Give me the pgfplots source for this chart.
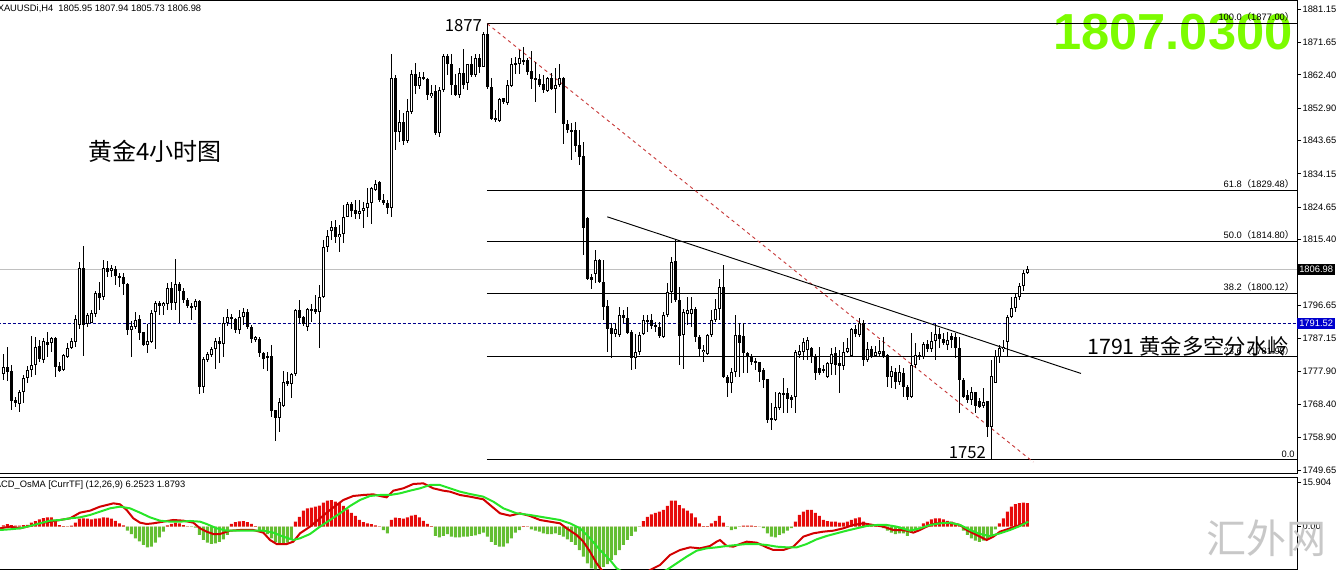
\documentclass[border=0pt]{standalone}
\usepackage{pgfplots}
\pgfplotsset{compat=1.18}
\usepackage{pgfplotstable}
\usepackage{fontspec}
\setmainfont{Liberation Sans}
\newfontfamily\cjk{Noto Sans CJK SC}
\definecolor{lawn}{RGB}{124,252,0}
\definecolor{hred}{RGB}{230,10,10}
\definecolor{hgreen}{RGB}{100,190,50}
\definecolor{mred}{RGB}{210,0,0}
\definecolor{mgreen}{RGB}{40,230,40}
\definecolor{navyd}{RGB}{0,0,140}
\definecolor{fibred}{RGB}{200,60,60}
\definecolor{pgray}{RGB}{192,192,192}
\definecolor{wm}{RGB}{200,200,200}
\definecolor{boxblue}{RGB}{0,0,205}
\newcommand\tf{\fontsize{7}{8}\selectfont}
\newcommand\fib[2]{#1{\cjk（}#2{\cjk）}}
\pgfplotstableread{
i o h l c
0 1777.0 1782.7 1775.3 1779.1
1 1779.1 1784.8 1775.1 1777.7
2 1777.9 1779.6 1766.7 1769.4
3 1769.6 1770.5 1767.7 1768.8
4 1768.5 1772.6 1766.3 1771.8
5 1771.8 1776.7 1768.8 1775.8
6 1775.9 1779.3 1774.4 1778.3
7 1778.3 1788.0 1776.3 1779.6
8 1779.6 1787.5 1776.7 1784.8
9 1785.0 1786.7 1780.5 1781.4
10 1781.0 1787.2 1780.2 1786.5
11 1786.2 1788.9 1782.0 1785.4
12 1785.8 1787.5 1783.4 1787.2
13 1787.2 1787.5 1776.3 1779.1
14 1779.3 1780.5 1777.7 1778.0
15 1778.2 1782.9 1778.0 1782.4
16 1782.0 1785.8 1781.5 1784.6
17 1784.6 1787.4 1784.3 1786.4
18 1786.2 1793.8 1784.8 1792.6
19 1791.0 1809.1 1790.0 1807.4
20 1807.4 1813.5 1782.2 1791.0
21 1791.2 1794.5 1790.5 1793.8
22 1791.7 1795.3 1791.5 1794.5
23 1794.3 1800.8 1793.2 1800.2
24 1800.2 1803.4 1795.3 1798.8
25 1799.1 1809.5 1798.1 1807.4
26 1807.4 1809.3 1804.8 1806.2
27 1806.5 1808.1 1804.8 1807.3
28 1806.9 1807.8 1802.4 1805.0
29 1805.1 1805.9 1801.9 1804.6
30 1804.6 1805.9 1799.6 1802.6
31 1802.7 1802.9 1788.1 1789.6
32 1789.6 1792.2 1781.8 1790.7
33 1790.5 1794.8 1790.0 1792.4
34 1792.6 1793.8 1786.7 1788.8
35 1789.1 1789.1 1785.0 1785.3
36 1785.3 1791.3 1782.9 1786.4
37 1786.3 1795.3 1785.8 1794.6
38 1794.6 1797.9 1784.3 1797.2
39 1797.2 1797.9 1793.8 1796.4
40 1796.4 1797.7 1793.8 1797.2
41 1797.0 1802.9 1795.3 1801.7
42 1801.7 1803.4 1795.3 1797.2
43 1797.2 1810.0 1795.3 1802.6
44 1802.6 1803.4 1791.7 1800.8
45 1800.8 1801.5 1797.2 1798.1
46 1798.3 1798.6 1795.8 1796.4
47 1796.4 1797.2 1792.6 1796.0
48 1796.2 1798.6 1795.3 1797.8
49 1797.8 1798.1 1771.3 1773.4
50 1773.4 1782.0 1771.5 1781.2
51 1781.0 1783.4 1780.5 1782.7
52 1782.6 1784.8 1782.0 1784.1
53 1784.1 1787.2 1778.6 1786.4
54 1786.4 1787.7 1780.2 1785.5
55 1785.5 1793.4 1782.0 1791.7
56 1791.7 1795.5 1790.7 1793.2
57 1793.2 1794.3 1790.0 1792.6
58 1792.7 1792.9 1788.8 1789.6
59 1789.6 1795.3 1788.4 1793.2
60 1793.2 1795.8 1791.0 1794.7
61 1794.8 1795.5 1790.0 1790.5
62 1790.5 1791.0 1785.8 1786.9
63 1786.9 1787.9 1786.2 1787.5
64 1786.9 1787.7 1782.0 1782.9
65 1783.1 1783.4 1778.4 1781.4
66 1782.2 1783.4 1778.0 1781.5
67 1782.2 1785.3 1764.8 1766.6
68 1766.7 1766.7 1758.0 1764.4
69 1764.4 1770.1 1760.6 1769.1
70 1768.0 1778.0 1767.7 1774.8
71 1775.0 1777.7 1773.6 1774.2
72 1774.2 1777.4 1770.1 1777.0
73 1777.0 1795.5 1776.4 1795.3
74 1795.3 1798.3 1791.5 1792.9
75 1793.2 1793.6 1790.7 1791.3
76 1790.5 1795.8 1789.4 1795.5
77 1795.5 1797.0 1792.0 1795.1
78 1795.5 1799.6 1794.3 1794.8
79 1794.8 1802.4 1784.6 1798.9
80 1798.9 1815.2 1798.6 1813.2
81 1813.2 1818.1 1811.9 1816.4
82 1817.9 1820.7 1815.2 1819.0
83 1819.0 1821.0 1814.5 1816.2
84 1816.2 1819.5 1811.9 1816.9
85 1816.9 1825.2 1814.5 1821.9
86 1821.9 1826.2 1821.9 1825.7
87 1825.5 1826.2 1821.9 1823.6
88 1823.8 1826.8 1821.2 1822.7
89 1822.7 1826.6 1821.4 1823.6
90 1823.6 1826.2 1818.6 1824.5
91 1824.5 1830.0 1821.9 1825.9
92 1825.7 1830.4 1819.8 1830.0
93 1829.7 1832.4 1829.3 1831.4
94 1831.7 1832.1 1826.2 1826.6
95 1826.8 1828.4 1825.2 1825.9
96 1825.9 1826.6 1822.8 1824.3
97 1824.3 1868.5 1821.9 1861.4
98 1861.6 1862.3 1840.9 1846.1
99 1846.1 1852.3 1843.3 1849.0
100 1849.0 1851.6 1842.3 1843.6
101 1843.6 1855.4 1843.0 1852.1
102 1851.8 1863.9 1851.2 1862.6
103 1862.6 1865.8 1856.9 1859.3
104 1859.3 1863.3 1858.5 1861.8
105 1861.8 1863.3 1860.9 1861.4
106 1861.1 1861.4 1855.2 1856.6
107 1856.3 1859.5 1855.9 1857.3
108 1857.7 1859.5 1845.2 1845.7
109 1845.9 1859.0 1844.7 1858.0
110 1858.0 1868.5 1857.6 1867.7
111 1867.7 1868.5 1862.3 1865.4
112 1865.6 1868.5 1856.6 1859.5
113 1859.5 1862.8 1856.3 1856.6
114 1856.6 1864.5 1855.7 1862.8
115 1862.8 1869.9 1858.5 1859.5
116 1860.2 1865.6 1858.0 1865.4
117 1865.4 1867.7 1861.8 1862.3
118 1862.3 1868.5 1861.8 1867.1
119 1867.1 1868.5 1862.8 1864.7
120 1864.7 1874.7 1864.7 1874.0
121 1874.0 1877.0 1858.5 1859.0
122 1859.0 1861.4 1849.5 1849.7
123 1850.0 1852.3 1849.0 1849.5
124 1849.2 1855.7 1849.0 1855.4
125 1855.7 1855.9 1854.2 1854.7
126 1854.4 1860.9 1853.7 1859.5
127 1859.3 1867.1 1859.0 1865.6
128 1865.4 1867.5 1862.8 1865.8
129 1865.6 1869.4 1862.6 1867.1
130 1866.1 1870.4 1865.2 1866.6
131 1866.6 1867.1 1862.3 1863.3
132 1863.5 1869.2 1858.5 1861.1
133 1861.4 1866.1 1854.7 1861.1
134 1861.1 1862.8 1859.0 1859.5
135 1859.7 1862.3 1857.1 1858.0
136 1857.8 1861.8 1857.6 1861.4
137 1861.4 1862.8 1858.0 1858.5
138 1858.5 1864.5 1851.4 1859.5
139 1859.5 1865.6 1859.0 1861.4
140 1861.4 1861.8 1842.6 1848.3
141 1848.3 1849.5 1845.7 1846.6
142 1846.1 1848.7 1838.1 1846.6
143 1846.6 1849.0 1840.4 1842.1
144 1842.3 1846.6 1836.6 1839.0
145 1839.2 1843.3 1811.0 1818.8
146 1821.7 1821.9 1803.8 1804.3
147 1804.8 1805.7 1801.4 1804.0
148 1805.7 1812.4 1802.9 1809.5
149 1809.7 1810.0 1802.9 1803.3
150 1803.3 1809.5 1792.4 1796.2
151 1796.4 1798.1 1783.4 1790.0
152 1790.3 1791.5 1781.5 1788.6
153 1788.6 1791.5 1787.7 1790.0
154 1788.1 1796.2 1787.7 1793.8
155 1793.8 1795.3 1791.5 1792.9
156 1792.9 1796.2 1788.6 1788.8
157 1789.1 1789.6 1778.1 1781.5
158 1781.5 1788.6 1778.6 1783.4
159 1783.4 1789.1 1782.4 1788.1
160 1788.6 1793.8 1788.1 1792.4
161 1791.9 1793.8 1789.1 1792.4
162 1792.4 1794.3 1790.0 1790.7
163 1791.0 1791.9 1789.1 1790.5
164 1790.5 1791.9 1787.2 1787.8
165 1787.7 1794.8 1787.2 1793.8
166 1793.8 1802.9 1793.4 1800.5
167 1800.5 1810.5 1797.2 1809.1
168 1809.3 1815.7 1797.6 1798.1
169 1798.1 1801.9 1779.6 1787.8
170 1788.1 1795.7 1778.6 1794.8
171 1794.3 1799.1 1791.0 1795.3
172 1794.3 1799.1 1790.5 1795.7
173 1795.7 1796.2 1786.2 1787.7
174 1787.7 1788.1 1781.9 1784.3
175 1783.4 1785.3 1780.5 1784.0
176 1782.9 1788.6 1782.4 1788.1
177 1788.1 1795.3 1787.7 1792.6
178 1792.6 1798.6 1791.9 1795.7
179 1795.7 1804.3 1792.4 1801.9
180 1801.9 1808.1 1775.8 1776.2
181 1776.1 1776.8 1770.6 1774.6
182 1774.6 1778.7 1771.7 1777.7
183 1777.7 1793.9 1776.3 1788.2
184 1788.2 1791.5 1776.3 1785.8
185 1787.9 1791.7 1777.2 1783.0
186 1783.0 1783.4 1777.2 1782.2
187 1782.2 1782.8 1779.6 1780.6
188 1780.9 1781.5 1778.2 1780.1
189 1780.6 1780.6 1774.9 1777.7
190 1778.2 1778.7 1773.0 1775.3
191 1775.5 1775.5 1763.0 1763.9
192 1764.4 1768.7 1761.1 1763.9
193 1763.9 1772.0 1763.5 1767.7
194 1767.3 1772.0 1766.8 1771.5
195 1771.1 1775.8 1765.8 1771.5
196 1771.5 1773.0 1765.8 1769.8
197 1770.4 1771.1 1767.3 1769.6
198 1770.4 1783.9 1765.8 1783.4
199 1782.5 1785.3 1781.5 1783.7
200 1783.4 1787.2 1781.0 1786.3
201 1783.9 1787.7 1781.0 1786.7
202 1784.4 1784.9 1780.1 1782.0
203 1782.0 1782.8 1775.3 1777.2
204 1778.7 1784.9 1776.8 1777.2
205 1778.4 1779.6 1777.2 1778.0
206 1776.1 1780.6 1775.8 1780.1
207 1779.9 1784.4 1776.8 1782.9
208 1782.9 1784.9 1776.8 1779.6
209 1780.3 1783.9 1771.7 1779.2
210 1779.2 1786.3 1778.2 1783.4
211 1783.4 1787.2 1783.0 1784.4
212 1782.2 1790.1 1782.0 1789.8
213 1789.8 1791.0 1787.7 1788.5
214 1788.2 1792.9 1787.7 1791.5
215 1791.5 1792.5 1779.2 1781.0
216 1781.0 1786.3 1780.6 1784.1
217 1784.1 1785.0 1781.5 1782.0
218 1782.2 1785.0 1782.0 1783.4
219 1782.8 1786.8 1782.0 1783.7
220 1783.7 1787.5 1781.5 1782.2
221 1782.5 1782.8 1773.4 1776.3
222 1776.3 1779.2 1773.0 1778.0
223 1777.7 1778.7 1772.7 1774.9
224 1774.9 1779.6 1773.9 1777.7
225 1777.2 1778.7 1770.6 1773.3
226 1773.4 1773.9 1769.6 1770.6
227 1770.6 1788.7 1770.1 1779.6
228 1779.6 1785.8 1778.7 1782.5
229 1782.0 1783.4 1781.0 1782.5
230 1782.0 1786.3 1781.2 1785.6
231 1785.6 1786.8 1783.4 1784.1
232 1784.1 1789.1 1783.4 1786.6
233 1786.6 1791.3 1781.0 1788.5
234 1788.5 1790.1 1784.4 1787.0
235 1787.0 1788.7 1785.3 1786.0
236 1785.3 1789.1 1783.9 1786.7
237 1787.9 1788.7 1784.4 1786.7
238 1787.7 1788.7 1781.5 1784.4
239 1784.4 1787.7 1765.8 1775.3
240 1775.3 1775.8 1770.1 1770.6
241 1771.1 1772.5 1768.7 1769.6
242 1769.6 1773.4 1768.2 1772.0
243 1772.0 1772.0 1765.8 1767.9
244 1769.2 1770.1 1767.3 1767.7
245 1767.9 1773.0 1767.3 1769.2
246 1769.2 1769.2 1759.2 1762.0
247 1762.0 1781.0 1752.6 1776.5
248 1774.5 1783.9 1774.4 1782.2
249 1782.0 1785.3 1780.1 1784.6
250 1784.1 1786.9 1783.4 1784.8
251 1786.2 1793.9 1782.0 1793.4
252 1793.4 1799.1 1792.9 1795.8
253 1795.8 1800.0 1794.8 1798.9
254 1798.9 1802.9 1798.1 1802.1
255 1802.1 1806.7 1800.8 1805.9
256 1805.9 1807.9 1805.6 1806.98
}\candles
\pgfplotstableread{
i v
0 0.4
1 0.8
2 0.5
3 0.3
4 0.3
5 0.5
6 0.6
7 1.3
8 1.8
9 2.4
10 2.8
11 3.0
12 3.0
13 2.2
14 0.5
15 0.2
16 0.1
17 0.3
18 1.3
19 2.6
20 2.7
21 2.6
22 2.4
23 2.6
24 2.7
25 3.0
26 2.9
27 2.6
28 1.9
29 1.1
30 0.4
31 -1.3
32 -2.4
33 -3.8
34 -4.8
35 -5.9
36 -6.7
37 -6.5
38 -5.2
39 -3.5
40 -1.6
41 0.4
42 0.9
43 1.3
44 1.1
45 0.5
46 0.1
47 -0.1
48 -0.3
49 -2.7
50 -4.3
51 -5.2
52 -5.6
53 -5.4
54 -4.9
55 -4.1
56 -2.7
57 0.9
58 1.5
59 1.7
60 1.8
61 1.5
62 0.9
63 0.2
64 -1.1
65 -1.6
66 -2.4
67 -3.8
68 -4.9
69 -5.4
70 -5.6
71 -5.2
72 -4.1
73 1.6
74 3.2
75 5.2
76 5.9
77 6.2
78 6.5
79 6.8
80 7.8
81 8.4
82 8.6
83 8.1
84 7.6
85 6.7
86 5.6
87 4.5
88 3.5
89 2.2
90 1.5
91 1.1
92 0.8
93 0.4
94 0.1
95 -1.1
96 -2.2
97 2.2
98 2.9
99 2.8
100 2.6
101 3.0
102 3.6
103 3.8
104 3.0
105 1.9
106 0.9
107 0.2
108 -3.0
109 -3.5
110 -3.0
111 -2.4
112 -3.2
113 -3.5
114 -3.5
115 -3.2
116 -3.2
117 -3.0
118 -2.8
119 -2.4
120 -1.9
121 -3.2
122 -4.9
123 -5.9
124 -6.5
125 -6.5
126 -5.4
127 -3.8
128 -1.9
129 -1.1
130 0.2
131 0.1
132 -0.9
133 -1.3
134 -1.6
135 -2.2
136 -2.4
137 -2.4
138 -2.2
139 -2.7
140 -3.2
141 -4.1
142 -4.9
143 -5.9
144 -7.6
145 -9.7
146 -11.9
147 -13.5
148 -13.8
149 -13.5
150 -13.0
151 -12.1
152 -10.8
153 -9.2
154 -7.6
155 -5.9
156 -4.3
157 -3.0
158 -1.6
159 -0.1
160 1.8
161 3.2
162 4.0
163 4.5
164 4.9
165 5.4
166 6.7
167 8.4
168 8.4
169 7.0
170 5.9
171 5.2
172 4.3
173 3.0
174 1.1
175 0.2
176 0.2
177 1.1
178 1.9
179 3.5
180 1.3
181 -0.1
182 -1.1
183 -0.8
184 -0.1
185 0.3
186 0.3
187 0.3
188 0.2
189 0.05
190 -0.5
191 -2.2
192 -3.2
193 -3.5
194 -2.7
195 -2.2
196 -1.3
197 -0.5
198 1.6
199 3.8
200 4.9
201 5.4
202 5.4
203 4.5
204 3.5
205 2.2
206 1.8
207 1.6
208 1.6
209 1.3
210 1.3
211 1.6
212 2.2
213 2.7
214 3.0
215 1.6
216 0.9
217 0.5
218 0.3
219 0.05
220 -0.5
221 -1.3
222 -1.9
223 -2.4
224 -2.2
225 -2.2
226 -3.0
227 -1.9
228 -1.3
229 -0.3
230 1.1
231 1.6
232 2.4
233 2.7
234 2.7
235 2.4
236 1.9
237 1.6
238 1.1
239 0.5
240 -1.3
241 -2.7
242 -3.8
243 -4.5
244 -4.9
245 -4.5
246 -4.1
247 -2.7
248 -0.9
249 1.1
250 2.7
251 4.9
252 6.5
253 7.3
254 7.6
255 7.8
256 7.6
}\hist
\begin{document}
\begin{tikzpicture}
\useasboundingbox (0,0) rectangle (1002pt,-427.5pt);
\begin{axis}[
  at={(-1.5pt,-0.4pt)}, anchor=north west, scale only axis,
  width=974.25pt, height=355.1pt,
  xmin=-1.3325, xmax=323.4175, ymin=1748.51, ymax=1883.62,
  axis line style={black, line width=0.75pt},
  xtick=\empty,
  ytick={1881.15,1871.65,1862.40,1852.90,1843.65,1834.15,1824.65,1815.40,1796.65,1787.15,1777.90,1768.40,1758.90,1749.65},
  yticklabels={1881.15,1871.65,1862.40,1852.90,1843.65,1834.15,1824.65,1815.40,1796.65,1787.15,1777.90,1768.40,1758.90,1749.65},
  ytick pos=right, yticklabel pos=right, tick align=outside,
  major tick length=3pt, tick style={black, line width=0.6pt},
  yticklabel style={font=\tf, anchor=west, inner xsep=1pt},
  clip mode=individual,
]
\node[anchor=east, inner sep=0pt, font=\fontsize{38}{40}\selectfont\bfseries, text=lawn] at (axis cs:322.4,1874.5) {1807.0300};
% reference lines
\addplot[pgray, line width=0.75pt, forget plot] coordinates {(-1.4,1806.98) (323.42,1806.98)};
\addplot[navyd, line width=0.75pt, dash pattern=on 2.25pt off 1.5pt, forget plot] coordinates {(-1.4,1791.52) (323.42,1791.52)};
% fibonacci levels
\addplot[black, line width=0.75pt, forget plot] coordinates {(120.9,1877.00) (323.42,1877.00)};
\addplot[black, line width=0.75pt, forget plot] coordinates {(120.9,1829.48) (323.42,1829.48)};
\addplot[black, line width=0.75pt, forget plot] coordinates {(120.9,1814.80) (323.42,1814.80)};
\addplot[black, line width=0.75pt, forget plot] coordinates {(120.9,1800.12) (323.42,1800.12)};
\addplot[black, line width=0.75pt, forget plot] coordinates {(120.9,1781.95) (323.42,1781.95)};
\addplot[black, line width=0.75pt, forget plot] coordinates {(120.9,1752.60) (323.42,1752.60)};
\node[anchor=south east, inner sep=0pt, font=\tf, yshift=1.2pt] at (axis cs:322.8,1877.00) {\fib{100.0}{1877.00}};
\node[anchor=south east, inner sep=0pt, font=\tf, yshift=1.2pt] at (axis cs:322.8,1829.48) {\fib{61.8}{1829.48}};
\node[anchor=south east, inner sep=0pt, font=\tf, yshift=1.2pt] at (axis cs:322.8,1814.80) {\fib{50.0}{1814.80}};
\node[anchor=south east, inner sep=0pt, font=\tf, yshift=1.2pt] at (axis cs:322.8,1800.12) {\fib{38.2}{1800.12}};
\node[anchor=south east, inner sep=0pt, font=\tf, yshift=1.2pt] at (axis cs:322.8,1781.95) {\fib{23.6}{1781.95}};
\node[anchor=south east, inner sep=0pt, font=\tf, yshift=1.2pt] at (axis cs:322.9,1752.60) {0.0};
% trend lines
\addplot[fibred, line width=0.7pt, dash pattern=on 2.5pt off 2.5pt, forget plot] coordinates {(121,1877.0) (257.5,1751.9)};
\addplot[black, line width=0.7pt, forget plot] coordinates {(151,1821.9) (269.4,1777.2)};
% candles: wicks
\addplot[draw=none, mark=none, forget plot,
  error bars/.cd, y dir=both, y explicit, error mark=none,
  error bar style={draw=black, line width=0.75pt}]
  table[x=i, y expr={(\thisrow{h}+\thisrow{l})/2}, y error expr={(\thisrow{h}-\thisrow{l})/2}] {\candles};
% bodies
\addplot[draw=none, mark=none, forget plot,
  error bars/.cd, y dir=both, y explicit, error mark=none,
  error bar style={draw=black, line width=2.3pt, line cap=butt}]
  table[x=i, y expr={(\thisrow{o}+\thisrow{c})/2}, y error expr={max(abs(\thisrow{o}-\thisrow{c})/2,0.15)}] {\candles};
% hollow interior of rising candles
\addplot[draw=none, mark=none, forget plot,
  error bars/.cd, y dir=both, y explicit, error mark=none,
  error bar style={draw=white, line width=0.8pt, line cap=butt}]
  table[x=i, y expr={(\thisrow{o}+\thisrow{c})/2}, y error expr={(\thisrow{c}>\thisrow{o})*max((\thisrow{c}-\thisrow{o})/2-0.285,0)}] {\candles};
% texts
\node[inner sep=0pt, font=\cjk\fontsize{12.5}{14}\selectfont] at (axis cs:115.0,1876.6) {1877};
\node[inner sep=0pt, font=\cjk\fontsize{12.5}{14}\selectfont] at (axis cs:241.0,1754.6) {1752};
\node[inner sep=0pt, font=\cjk\fontsize{18}{20}\selectfont] at (axis cs:37.9,1840.6) {黄金4小时图};
\node[inner sep=0pt, font=\cjk\fontsize{16}{18}\selectfont] at (axis cs:296.2,1784.8) {1791 黄金多空分水岭};
\node[anchor=west, inner sep=0pt, font=\tf] at (axis cs:-1.45,1881.2) {XAUUSDi,H4\ \ 1805.95 1807.94 1805.73 1806.98};
\node[anchor=west, fill=black, text=white, inner xsep=1.5pt, inner ysep=1.6pt, font=\tf] at (axis cs:323.42,1806.98) {1806.98};
\node[anchor=west, fill=boxblue, text=white, inner xsep=1.5pt, inner ysep=1.6pt, font=\tf] at (axis cs:323.42,1791.52) {1791.52};
\end{axis}
\begin{axis}[
  at={(-1.5pt,-357.75pt)}, anchor=north west, scale only axis,
  width=974.25pt, height=69.75pt,
  xmin=-1.3325, xmax=323.4175, ymin=-14.04, ymax=16.09,
  axis line style={black, line width=0.75pt},
  xtick=\empty,
  ytick={14.5,0}, yticklabels={15.904,0.00},
  ytick pos=right, yticklabel pos=right, tick align=outside,
  major tick length=3pt, tick style={black, line width=0.6pt},
  yticklabel style={font=\tf, anchor=west, inner xsep=1pt},
  clip mode=individual,
]
\addplot[ybar, bar width=2.25pt, bar shift=0pt, fill=hred, draw=none, forget plot] table[x=i, y expr={max(\thisrow{v},0)}] {\hist};
\addplot[ybar, bar width=2.25pt, bar shift=0pt, fill=hgreen, draw=none, forget plot] table[x=i, y expr={min(\thisrow{v},0)}] {\hist};
\addplot[mred, line width=1.5pt, forget plot] coordinates {
(-0.83,-0.54) (1.67,0) (4.17,-0.54) (6.67,0.22) (9.17,1.08) (11.67,1.62) (14.17,2.16) (16.67,2.7) (19.17,4.54) (21.67,5.18) (24.17,6.48) (25.83,7.02) (27.5,7.56) (29.17,7.24) (30.83,5.4) (32.5,2.7) (34.17,1.3) (35.83,0.86) (37.5,1.08) (40,1.62) (42.5,2.16) (45,1.94) (47.5,1.3) (49.17,-0.54) (50.83,-1.62) (52.5,-2.38) (54.17,-2.38) (56.67,-1.3) (59.17,-1.08) (62.5,-1.08) (65,-1.94) (66.67,-4.32) (68.33,-5.62) (70.83,-5.62) (72.5,-4.86) (74.17,-2.16) (76.67,0) (79.17,2.7) (81.67,5.4) (83.33,7.02) (85,8.64) (87.5,9.94) (90,10.26) (92.5,10.48) (94.17,9.94) (95.83,9.5) (97.5,11.66) (100,12.42) (102.5,13.82) (105,14.04) (107.5,12.42) (110,11.66) (111.67,11.34) (114.17,10.26) (116.67,9.72) (120,8.86) (121.67,7.02) (124.17,4.32) (126.67,3.56) (129.17,4.32) (131.67,3.46) (134.17,2.16) (136.67,1.62) (139.17,1.08) (140.83,-0.54) (143.33,-2.7) (145,-4.86) (146.67,-8.1) (148.33,-11.88) (149.58,-14.04) (153.33,-17.8) (157.5,-18.4) (161.67,-14.04) (164.17,-12.42) (166.67,-9.18) (169.17,-7.56) (171.67,-6.7) (174.17,-7.02) (176.67,-6.26) (178.33,-4.86) (179.17,-4.32) (180.83,-6.26) (182.5,-6.48) (184.17,-5.62) (185.83,-4.86) (188.33,-5.18) (190.83,-6.7) (192.5,-7.56) (195,-7.56) (197.5,-6.48) (200,-3.24) (202.5,-2.16) (205,-1.62) (207.5,-1.3) (210,-0.54) (212.5,0.54) (215,1.08) (217.5,0.54) (220,0) (222.5,-1.08) (224.17,-1.1) (225.83,-1.3) (227.5,-1.94) (229.17,-1.08) (230.83,0) (232.5,0.86) (235,1.3) (237.5,1.08) (239.17,0.54) (240.83,-1.08) (243.33,-2.7) (245.83,-4.32) (247.5,-3.24) (249.17,-1.62) (251.67,-0.54) (254.17,0.54) (256.25,1.62)};
\addplot[mgreen, line width=1.5pt, forget plot] coordinates {
(-0.83,-1.08) (1.67,-0.86) (4.17,-0.54) (6.67,0.22) (9.17,1.08) (11.67,1.94) (14.17,2.16) (16.67,2.7) (19.17,3.02) (21.67,3.78) (24.17,4.86) (26.67,5.94) (29.17,6.48) (31.67,5.94) (34.17,4.54) (36.67,3.02) (39.17,1.94) (41.67,1.62) (44.17,1.62) (46.67,1.84) (49.17,1.62) (50.83,0.86) (53.33,-0.54) (55.83,-1.3) (59.17,-1.3) (62.5,-1.3) (65,-1.3) (67.5,-1.94) (70,-3.24) (72.5,-4.32) (74.17,-3.78) (76.67,-2.38) (79.17,0) (81.67,2.16) (84.17,4.32) (86.67,6.7) (89.17,8.64) (91.67,9.94) (94.17,10.26) (96.67,10.26) (99.17,10.8) (101.67,11.66) (104.17,12.42) (106.67,13.5) (109.17,13.5) (111.67,12.42) (114.17,11.34) (116.67,10.58) (120,9.72) (122.5,8.1) (125,5.94) (128.33,4.32) (131.67,3.78) (134.17,3.24) (136.67,2.7) (139.17,2.16) (141.67,1.08) (144.17,-0.54) (146.67,-3.78) (149.17,-7.56) (151.67,-10.8) (153.33,-13.5) (157.5,-16.7) (161.67,-16.2) (165.83,-14.04) (168.33,-11.88) (170.83,-9.72) (173.33,-7.78) (175.83,-7.02) (178.33,-6.7) (180.83,-6.26) (183.33,-5.94) (185.83,-5.62) (188.33,-5.62) (190.83,-5.94) (193.33,-6.48) (195.83,-6.7) (198.33,-6.7) (200.83,-5.62) (203.33,-4.1) (205.83,-3.02) (208.33,-2.16) (210.83,-1.3) (213.33,-0.54) (215.83,0.22) (218.33,0.54) (220.83,0.54) (223.33,0) (226.67,-1.3) (229.17,-0.54) (231.67,0.54) (234.17,1.08) (236.67,1.3) (239.17,0.54) (241.67,-1.08) (244.17,-2.38) (246.67,-3.02) (249.17,-2.16) (251.67,-1.08) (254.17,0.22) (256.25,1.62)};
\node[anchor=west, inner sep=0pt, font=\tf] at (axis cs:-4.1,13.4) {MACD\_OsMA [CurrTF] (12,26,9) 6.2523 1.8793};
\node[inner sep=0pt, font=\cjk\fontsize{30}{32}\selectfont, text=wm] at (axis cs:315.9,-3.7) {汇外网};
\end{axis}
\end{tikzpicture}
\end{document}
